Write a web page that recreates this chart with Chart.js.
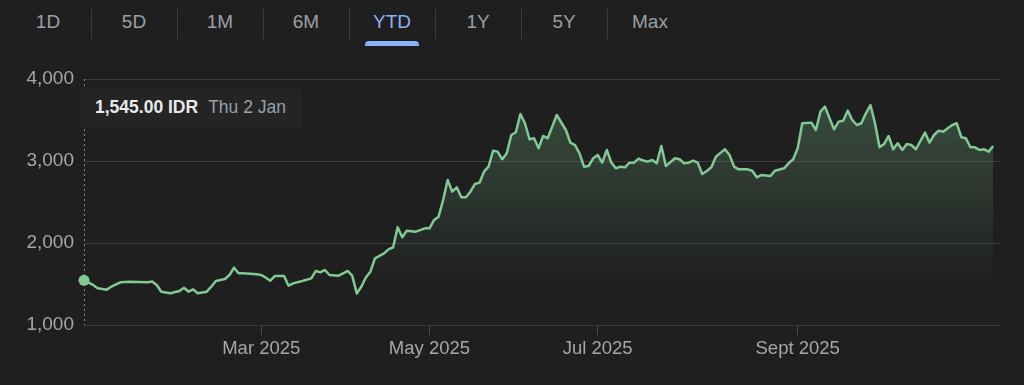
<!DOCTYPE html>
<html>
<head>
<meta charset="utf-8">
<script src="https://cdn.jsdelivr.net/npm/chart.js@4.4.1/dist/chart.umd.min.js"></script>
<style>
  html, body { margin: 0; padding: 0; background: #1f1f1f; }
  body { width: 1024px; height: 385px; position: relative; overflow: hidden; font-family: "Liberation Sans", Arial, sans-serif; }
  #tabs { position: absolute; left: 5px; top: 6px; height: 36px; display: flex; }
  .tab { width: 86px; height: 36px; line-height: 32px; text-align: center; font-size: 19px; color: #9aa0a6; position: relative; }
  .tab + .tab::before { content: ""; position: absolute; left: 0; top: 3px; height: 30px; border-left: 1px solid #3c3c3c; }
  .tab.on { color: #8ab4f8; }
  .tab.on::after { content: ""; position: absolute; left: 16px; right: 16px; top: 35px; height: 5px; background: #8ab4f8; border-radius: 4px 4px 0 0; }
  #chart { position: absolute; left: 0; top: 0; }
  #tip { position: absolute; left: 80px; top: 87px; width: 222px; height: 41px; background: #242424; border-radius: 4px;
         display: flex; align-items: center; padding-left: 15px; box-sizing: border-box; font-size: 17.5px; white-space: nowrap; }
  #tip .v { color: #e8eaed; font-weight: bold; margin-right: 10px; }
  #tip .d { color: #9aa0a6; }
</style>
</head>
<body>
<div id="tabs"></div>
<canvas id="chart" width="1024" height="385"></canvas>
<div id="tip"><span class="v"></span><span class="d"></span></div>
<script>
// range tabs
const ranges = ['1D', '5D', '1M', '6M', 'YTD', '1Y', '5Y', 'Max']
const activeRange = 'YTD'

// trading day index since 2 Jan 2025 and closing price (IDR)
const tradingDay = [0, 2, 3, 5, 6, 8, 10, 12, 14, 15, 16, 17, 19, 21, 22, 23, 24, 25, 27, 28, 29, 31, 32, 33, 34, 35, 38, 39, 40, 41, 42, 44, 45, 46, 48, 50, 51, 52, 53, 54, 56, 57, 58, 59, 60, 61, 62, 63, 64, 66, 67, 68, 69, 70, 71, 73, 75, 76, 77, 78, 79, 80, 81, 82, 83, 84, 85, 86, 87, 88, 89, 90, 91, 92, 93, 94, 95, 96, 97, 98, 99, 100, 101, 102, 103, 104, 106, 107, 108, 109, 110, 111, 112, 113, 114, 115, 116, 117, 118, 119, 120, 121, 122, 123, 124, 125, 126, 127, 128, 130, 131, 132, 133, 134, 135, 136, 137, 138, 139, 141, 142, 143, 144, 146, 147, 148, 149, 151, 152, 154, 155, 156, 157, 158, 160, 161, 162, 163, 164, 165, 166, 167, 168, 169, 170, 171, 172, 173, 174, 175, 176, 177, 178, 179, 180, 181, 182, 183, 185, 186, 187, 188, 189, 190, 191, 192, 193, 194, 195, 196, 197, 198, 199, 200]
const priceIdr = [1545, 1488, 1448, 1431, 1467, 1521, 1528, 1525, 1521, 1530, 1488, 1406, 1387, 1415, 1455, 1406, 1435, 1387, 1406, 1467, 1537, 1561, 1610, 1699, 1630, 1630, 1618, 1610, 1577, 1540, 1598, 1598, 1479, 1508, 1537, 1569, 1659, 1642, 1671, 1610, 1602, 1630, 1659, 1602, 1385, 1467, 1580, 1650, 1813, 1874, 1923, 1948, 2191, 2070, 2150, 2138, 2179, 2179, 2280, 2321, 2524, 2768, 2626, 2679, 2557, 2557, 2626, 2720, 2736, 2870, 2931, 3126, 3114, 3021, 3094, 3317, 3350, 3573, 3460, 3265, 3277, 3155, 3305, 3277, 3419, 3561, 3378, 3223, 3195, 3094, 2931, 2939, 3033, 3073, 2980, 3134, 2980, 2911, 2931, 2923, 2980, 2980, 3029, 3005, 2992, 3012, 2972, 3183, 2939, 3033, 3021, 2972, 2980, 3005, 2980, 2841, 2878, 2923, 3053, 3143, 3073, 2931, 2898, 2898, 2882, 2801, 2829, 2817, 2882, 2911, 2972, 3021, 3155, 3460, 3468, 3378, 3602, 3663, 3521, 3386, 3480, 3492, 3614, 3500, 3439, 3460, 3582, 3683, 3460, 3167, 3207, 3305, 3143, 3216, 3134, 3207, 3195, 3143, 3346, 3223, 3317, 3370, 3358, 3399, 3439, 3460, 3289, 3277, 3167, 3167, 3134, 3143, 3114, 3183]
const startDateLabel = 'Thu 2 Jan'

// axis ticks
const monthTickDay = [39, 76, 113, 157]
const monthTickLabel = ['Mar 2025', 'May 2025', 'Jul 2025', 'Sept 2025']
const priceTicks = [1000, 2000, 3000, 4000]

const tabs = document.getElementById('tabs')
ranges.forEach(r => {
  const d = document.createElement('div')
  d.className = 'tab' + (r === activeRange ? ' on' : '')
  d.textContent = r
  tabs.appendChild(d)
})

document.querySelector('#tip .v').textContent =
  priceIdr[0].toLocaleString('en-US', { minimumFractionDigits: 2 }) + ' IDR'
document.querySelector('#tip .d').textContent = startDateLabel

const green = '#81c995'
const labelColor = '#a4a7ab'
const labelFont = 'Liberation Sans'

// dotted marker line through the hovered (first) point
const startLine = {
  id: 'startLine',
  beforeDatasetsDraw(chart) {
    const p = chart.getDatasetMeta(0).data[0]
    const { top, bottom } = chart.chartArea
    const c = chart.ctx
    const x = Math.round(p.x) + 0.5
    c.save()
    c.strokeStyle = '#8a8a8a'
    c.lineWidth = 1
    c.setLineDash([2, 3])
    c.beginPath()
    c.moveTo(x, top)
    c.lineTo(x, bottom)
    c.stroke()
    c.restore()
  }
}

const grafico = new Chart(document.getElementById('chart'), {
  type: 'line',
  data: {
    datasets: [{
      data: tradingDay.map((d, i) => ({ x: d, y: priceIdr[i] })),
      borderColor: green,
      borderWidth: 2.5,
      borderJoinStyle: 'round',
      tension: 0,
      clip: false,
      fill: 'start',
      backgroundColor: ctx => {
        const area = ctx.chart.chartArea
        if (!area) return 'rgba(129,201,149,0.15)'
        const g = ctx.chart.ctx.createLinearGradient(0, area.top, 0, area.bottom - 40)
        g.addColorStop(0, 'rgba(129,201,149,0.30)')
        g.addColorStop(1, 'rgba(129,201,149,0)')
        return g
      },
      pointRadius: ctx => ctx.dataIndex === 0 ? 5.5 : 0,
      pointBackgroundColor: green,
      pointBorderWidth: 0
    }]
  },
  options: {
    responsive: false,
    animation: false,
    layout: { padding: { top: 79, right: 24, left: 0, bottom: 0 } },
    plugins: { legend: { display: false }, tooltip: { enabled: false } },
    scales: {
      x: {
        type: 'linear',
        min: 0,
        max: 201.5,
        afterBuildTicks: s => { s.ticks = monthTickDay.map(v => ({ value: v })) },
        afterFit: s => { s.height = 60 },
        ticks: {
          autoSkip: false,
          maxRotation: 0,
          padding: 3,
          color: labelColor,
          font: { family: labelFont, size: 18.5 },
          callback: v => monthTickLabel[monthTickDay.indexOf(v)]
        },
        grid: { drawOnChartArea: false, tickLength: 10, color: '#4a4a4a' },
        border: { display: false }
      },
      y: {
        min: 1000,
        max: 4000,
        afterBuildTicks: s => { s.ticks = priceTicks.map(v => ({ value: v })) },
        afterFit: s => { s.width = 84 },
        ticks: {
          padding: 10,
          color: labelColor,
          font: { family: labelFont, size: 19 },
          callback: v => v.toLocaleString('en-US')
        },
        grid: { drawTicks: false, color: '#3b3b3b' },
        border: { display: false }
      }
    }
  },
  plugins: [startLine]
})
</script>
</body>
</html>
